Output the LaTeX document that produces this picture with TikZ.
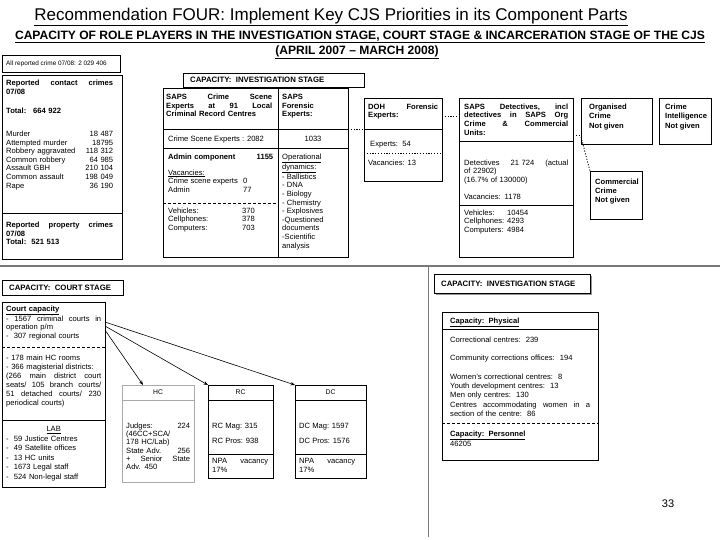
\documentclass[tikz,border=0pt]{standalone}
\usepackage{fontspec}
\setmainfont{Liberation Sans}
\usetikzlibrary{arrows.meta,positioning,calc,shadows}
\definecolor{rulegray}{RGB}{120,120,120}
\definecolor{shadegray}{RGB}{150,150,150}
\definecolor{framegray}{RGB}{170,170,170}

\begin{document}
\begin{tikzpicture}[x=1pt, y=-1pt,
  frame/.style={draw, line width=0.7pt, inner sep=0pt, outer sep=0pt, anchor=north west},
  txt/.style={inner sep=0pt, anchor=north west, align=left, font=\fontsize{7.6}{8.6}\selectfont},
  head/.style={inner sep=0pt, anchor=west, font=\fontsize{7.8}{9}\selectfont\bfseries},
  split/.style={line width=0.7pt},
  dashsplit/.style={line width=0.7pt, dash pattern=on 3pt off 2pt},
  dotlink/.style={line width=0.8pt, dash pattern=on 1.2pt off 1.6pt},
  arrow/.style={-{Stealth[length=4.5pt,width=3.5pt]}, line width=0.6pt}
]
\useasboundingbox (0,0) rectangle (720,540);

% Titles
\node[inner sep=0pt, font=\fontsize{17}{19}\selectfont] (title) at (331,17) {\underline{Recommendation FOUR: Implement Key CJS Priorities in its Component Parts}};
\node[inner sep=0pt, font=\fontsize{12.1}{14}\selectfont\bfseries] (subtitle) at (360,37) {\underline{CAPACITY OF ROLE PLAYERS IN THE INVESTIGATION STAGE, COURT STAGE \& INCARCERATION STAGE OF THE CJS}};
\node[inner sep=0pt, font=\fontsize{12.1}{14}\selectfont\bfseries] (period) at (357,52) {\underline{(APRIL 2007 -- MARCH 2008)}};

% Reported crime
\node[frame, minimum width=118, minimum height=17] (allcrime) at (2,55) {};
\node[inner sep=0pt, anchor=west, font=\fontsize{6.4}{8}\selectfont] (allcrimetxt) at (6,63.5) {All reported crime 07/08: 2 029 406};

\node[frame, minimum width=120, minimum height=184] (contact) at (2,75) {};
\draw[split] (contact.west |- 0,213) -- (contact.east |- 0,213);
\node[txt, text width=107] (contacttxt) at (6,80) {\textbf{Reported\hfill contact\hfill crimes}\\ \textbf{07/08}\\[10.5pt] \textbf{\makebox[27pt][l]{Total:}664 922}\\[14.5pt] Murder\hfill 18 487\\ Attempted murder\hfill 18795\\ Robbery aggravated\hfill 118 312\\ Common robbery\hfill 64 985\\ Assault GBH\hfill 210 104\\ Common assault\hfill 198 049\\ Rape\hfill 36 190};
\node[txt, text width=107] (propertytxt) at (6,222) {\textbf{Reported\hfill property\hfill crimes}\\ \textbf{07/08}\\ \textbf{Total:\ \ 521 513}};

% Investigation stage
\node[frame, minimum width=181, minimum height=14] (invhead) at (183,73) {};
\node[head] (invheadtxt) at (190,80) {CAPACITY:\ \ INVESTIGATION STAGE};

\node[frame, minimum width=185, minimum height=169] (saps) at (163,88) {};
\draw[split] (saps.north -| 278,0) -- (saps.south -| 278,0);
\draw[split] (saps.west |- 0,129) -- (saps.east |- 0,129);
\draw[split] (saps.west |- 0,148) -- (saps.east |- 0,148);
\draw[dashsplit] (saps.west |- 0,203) -- (278,203);
\node[txt, text width=106] (sapshead) at (166,94) {\textbf{SAPS\hfill Crime\hfill Scene}\\ \textbf{Experts\hfill at\hfill 91\hfill Local}\\ \textbf{Criminal Record Centres}};
\node[txt] (scenetxt) at (168,135.5) {Crime Scene Experts : 2082};
\node[txt, text width=105] (admintxt) at (168,153.5) {\textbf{Admin component}\hfill\textbf{1155}};
\node[txt] (vactxt) at (168,169.5) {\underline{Vacancies:}\\ \makebox[75pt][l]{Crime scene experts}0\\ \makebox[75pt][l]{Admin}77};
\node[txt] (fleettxt) at (168,207.5) {\makebox[74pt][l]{Vehicles:}370\\ \makebox[74pt][l]{Cellphones:}378\\ \makebox[74pt][l]{Computers:}703};
\node[txt] (forhead) at (282,94) {\textbf{SAPS}\\ \textbf{Forensic}\\ \textbf{Experts:}};
\node[inner sep=0pt, font=\fontsize{7.6}{8.6}\selectfont] (fortotal) at (313,139) {1033};
\node[txt] (fortxt) at (282,153.5) {\underline{Operational}\\ \underline{dynamics:}\\ - Ballistics\\ - DNA\\ - Biology\\ - Chemistry\\ - Explosives\\ -Questioned\\ documents\\ -Scientific\\ analysis};

\node[frame, minimum width=78, minimum height=83] (doh) at (364,98) {};
\draw[split] (doh.west |- 0,129) -- (doh.east |- 0,129);
\draw[dotlink] (doh.west |- 0,153) -- (doh.east |- 0,153);
\node[txt, text width=70] (dohhead) at (368,103.5) {\textbf{DOH\hfill Forensic}\\ \textbf{Experts:}};
\node[txt] (dohexp) at (370,141.5) {Experts:\ \ 54};
\node[txt] (dohvac) at (368,159.5) {Vacancies: 13};

\node[frame, minimum width=114, minimum height=159] (det) at (459,98) {};
\draw[split] (det.west |- 0,141) -- (det.east |- 0,141);
\draw[split] (det.west |- 0,205) -- (det.east |- 0,205);
\node[txt, text width=104] (dethead) at (464,103.5) {\textbf{SAPS\hfill Detectives,\hfill incl}\\ \textbf{detectives\hfill in\hfill SAPS\hfill Org}\\ \textbf{Crime\hfill \&\hfill Commercial}\\ \textbf{Units:}};
\node[txt, text width=104] (dettxt) at (464,159.5) {Detectives\hfill 21 724\hfill (actual\\ of 22902)\\ (16.7\% of 130000)\\[8pt] Vacancies: 1178};
\node[txt] (detfleet) at (464,209.5) {\makebox[43pt][l]{Vehicles:}10454\\ \makebox[43pt][l]{Cellphones:}4293\\ \makebox[43pt][l]{Computers:}4984};

\node[frame, minimum width=71, minimum height=46] (org) at (581,98) {};
\node[txt, font=\fontsize{7.6}{9.5}\selectfont\bfseries] (orgtxt) at (589,103.5) {Organised\\ Crime\\ Not given};
\node[frame, minimum width=52, minimum height=46] (intel) at (659,98) {};
\node[txt, font=\fontsize{7.6}{9.5}\selectfont\bfseries] (inteltxt) at (665,103.5) {Crime\\ Intelligence\\ Not given};
\node[frame, minimum width=52, minimum height=48] (comm) at (590,171) {};
\node[txt, font=\fontsize{7.6}{9}\selectfont\bfseries] (commtxt) at (595,178.5) {Commercial\\ Crime\\ Not given};

% Links between role players
\draw[dotlink] (saps.east |- 0,129) -- (doh.west |- 0,129);
\draw[dotlink] (doh.east |- 0,116) -- (det.west |- 0,116);
\draw[dotlink] (det.east |- 0,135) -- (org.west |- 0,135);
\draw[dotlink] (org.west |- 0,137) -- (comm.north west);

% Stage rules
\draw[line width=2.5pt, rulegray] (0,266) -- (720,266);
\draw[line width=1pt, rulegray] (428,267) -- (428,537);

% Court stage
\node[frame, minimum width=121, minimum height=15] (courthead) at (2,280) {};
\node[head] (courtheadtxt) at (9,287.5) {CAPACITY:\ \ COURT STAGE};

\node[frame, minimum width=103, minimum height=185] (court) at (2,302) {};
\draw[dashsplit] (court.west |- 0,347) -- (court.east |- 0,347);
\draw[split] (court.west |- 0,420) -- (court.east |- 0,420);
\node[txt, text width=95] (courttxt) at (6,305.5) {\textbf{\underline{Court capacity}}\\ -\hfill 1567\hfill criminal\hfill courts\hfill in\\ operation p/m\\ - \ 307 regional courts};
\node[txt, text width=95, font=\fontsize{7.6}{9}\selectfont] (roomtxt) at (6,354.5) {- 178 main HC rooms\\ - 366 magisterial districts:\\ (266\hfill main\hfill district\hfill court\\ seats/\hfill 105\hfill branch\hfill courts/\\ 51\hfill detached\hfill courts/\hfill 230\\ periodical courts)};
\node[txt, text width=95, font=\fontsize{7.6}{9.5}\selectfont] (labtxt) at (6,426.5) {\makebox[95pt]{\underline{LAB}}\\ -\ \ 59 Justice Centres\\ -\ \ 49 Satellite offices\\ -\ \ 13 HC units\\ -\ \ 1673 Legal staff\\ -\ \ 524 Non-legal staff};

\node[frame, draw=framegray, minimum width=72, minimum height=97] (hc) at (122,385) {};
\draw[split, framegray] (hc.west |- 0,400) -- (hc.east |- 0,400);
\node[inner sep=0pt, font=\fontsize{6.8}{8}\selectfont] (hclabel) at ($(hc.north)+(0,7.5)$) {HC};
\node[txt, text width=64, font=\fontsize{7.6}{8.3}\selectfont] (hctxt) at (126,422.5) {Judges:\hfill 224\\ (46CC+SCA/\\ 178 HC/Lab)\\ State Adv.\hfill 256\\ +\hfill Senior\hfill State\\ Adv. 450};

\node[frame, minimum width=65, minimum height=93] (rc) at (208,385) {};
\draw[split] (rc.west |- 0,400) -- (rc.east |- 0,400);
\draw[split] (rc.west |- 0,454) -- (rc.east |- 0,454);
\node[inner sep=0pt, font=\fontsize{6.8}{8}\selectfont] (rclabel) at ($(rc.north)+(0,7.5)$) {RC};
\node[txt] (rctxt) at (212,422.5) {RC Mag: 315\\[6.4pt] RC Pros: 938};
\node[txt, text width=56] (rcnpa) at (212,458.5) {NPA\hfill vacancy\\ 17\%};

\node[frame, minimum width=71, minimum height=93] (dc) at (295,385) {};
\draw[split] (dc.west |- 0,400) -- (dc.east |- 0,400);
\draw[split] (dc.west |- 0,454) -- (dc.east |- 0,454);
\node[inner sep=0pt, font=\fontsize{6.8}{8}\selectfont] (dclabel) at ($(dc.north)+(0,7.5)$) {DC};
\node[txt] (dctxt) at (299,422.5) {DC Mag: 1597\\[6.4pt] DC Pros: 1576};
\node[txt, text width=56] (dcnpa) at (299,458.5) {NPA\hfill vacancy\\ 17\%};

\draw[arrow] (court.east |- 0,330) -- ([xshift=21pt]hc.north west);
\draw[arrow] (court.east |- 0,326) -- (rc.north west);
\draw[arrow] (court.east |- 0,322) -- (dc.north west);

% Incarceration stage
\node[frame, fill=white, drop shadow={shadow xshift=1.5pt, shadow yshift=-1.5pt, fill=shadegray, opacity=1}, minimum width=156, minimum height=19] (righthead) at (434,274) {};
\node[head] (rightheadtxt) at (441,283.5) {CAPACITY:\ \ INVESTIGATION STAGE};

\node[frame, minimum width=156, minimum height=148] (capbox) at (442,312) {};
\draw[split] (capbox.west |- 0,329) -- (capbox.east |- 0,329);
\draw[dashsplit] (capbox.west |- 0,423) -- (capbox.east |- 0,423);
\node[txt] (physhead) at (450,317.5) {\textbf{\underline{Capacity:\ \ Physical}}};
\node[txt, text width=140, font=\fontsize{7.6}{9.3}\selectfont] (phystxt) at (450,336.5) {Correctional centres:\ \ 239\\[9.2pt] Community corrections offices:\ \ 194\\[9.2pt] Women's correctional centres:\ \ 8\\ Youth development centres:\ \ 13\\ Men only centres:\ \ 130\\ Centres\hfill accommodating\hfill women\hfill in\hfill a\\ section of the centre:\ \ 86};
\node[txt] (perstxt) at (450,430.5) {\textbf{\underline{Capacity:\ \ Personnel}}\\ 46205};

\node[inner sep=0pt, font=\fontsize{11}{13}\selectfont] (pagenum) at (668,504) {33};

\end{tikzpicture}
\end{document}
